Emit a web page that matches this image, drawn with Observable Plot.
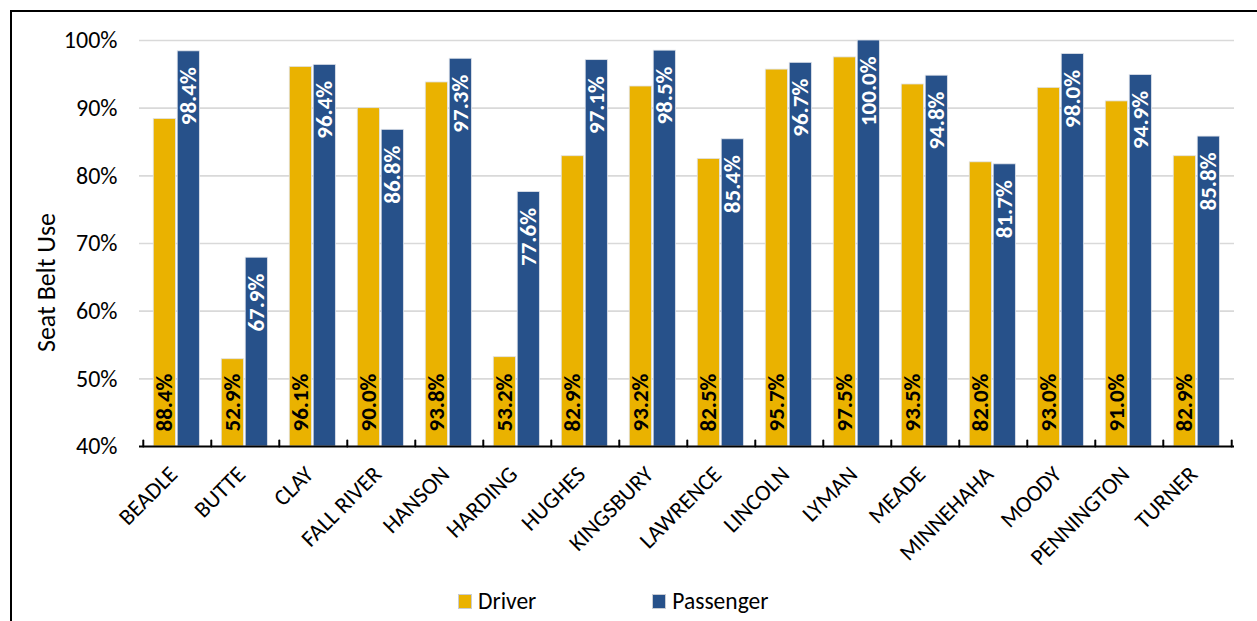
<!DOCTYPE html>
<html>
<head>
<meta charset="utf-8">
<script src="https://cdn.jsdelivr.net/npm/d3@7"></script>
<script src="https://cdn.jsdelivr.net/npm/@observablehq/plot@0.6"></script>
<style>
  html, body { margin: 0; padding: 0; background: #fff; }
  body { width: 1257px; height: 621px; position: relative; overflow: hidden; font-family: Carlito, Lato, sans-serif; }
  #frame { position: absolute; left: 10px; top: 10px; width: 1300px; height: 700px; border-left: 2px solid #000; border-top: 2px solid #000; }
  #chart { position: absolute; left: 0; top: 0; }
  #legend { position: absolute; top: 587px; left: 458px; display: flex; font-size: 23.5px; color: #000; }
  .item { display: flex; align-items: center; }
  .sw { width: 14px; height: 15px; margin-right: 6px; box-sizing: border-box; border: 1px solid #c9ccd3; }
</style>
</head>
<body>
<div id="frame"></div>
<div id="chart"></div>
<div id="legend"></div>
<script>
const counties = ["BEADLE","BUTTE","CLAY","FALL RIVER","HANSON","HARDING","HUGHES","KINGSBURY","LAWRENCE","LINCOLN","LYMAN","MEADE","MINNEHAHA","MOODY","PENNINGTON","TURNER"];
const driver = [88.4,52.9,96.1,90.0,93.8,53.2,82.9,93.2,82.5,95.7,97.5,93.5,82.0,93.0,91.0,82.9];
const passenger = [98.4,67.9,96.4,86.8,97.3,77.6,97.1,98.5,85.4,96.7,100.0,94.8,81.7,98.0,94.9,85.8];
const series = ["Driver","Passenger"];
const colors = ["#EAB200","#27518A"];
const yTicks = [40,50,60,70,80,90,100];
const yTitle = "Seat Belt Use";
const yMin = 40, yMax = 100;

const driverRows = counties.map((c,i) => ({county: c, value: driver[i]}));
const passRows = counties.map((c,i) => ({county: c, value: passenger[i]}));

const W = 1257, H = 575, mL = 139, mR = 23, mT = 40, mB = H - 446;
const bw = (W - mL - mR) / counties.length;
const fmt = v => v.toFixed(1) + "%";
const font = "Carlito, Lato, sans-serif";

const tickShape = {draw(ctx, l) { ctx.moveTo(0, 0); ctx.lineTo(0, -l); }};

const plot = Plot.plot({
  width: W, height: H,
  marginLeft: mL, marginRight: mR, marginTop: mT, marginBottom: mB,
  style: {fontFamily: font, color: "#000", background: "transparent"},
  x: {domain: counties, padding: 0},
  y: {domain: [yMin, yMax]},
  marks: [
    Plot.gridY(yTicks.filter(t => t > yMin), {stroke: "#d9d9d9", strokeOpacity: 1, strokeWidth: 1.6}),
    Plot.barY(driverRows, {x: "county", y1: yMin, y2: "value", fill: colors[0], stroke: "#dfe3ea", strokeWidth: 0.8, insetLeft: bw*0.15, insetRight: bw*0.52}),
    Plot.barY(passRows, {x: "county", y1: yMin, y2: "value", fill: colors[1], stroke: "#dfe3ea", strokeWidth: 0.8, insetLeft: bw*0.50, insetRight: bw*0.17}),
    Plot.ruleY([yMin], {stroke: "#000", strokeWidth: 2}),
    Plot.vector(counties, {x: d => d, y: yMin, length: 6, rotate: 0, anchor: "start", shape: tickShape, stroke: "#000", strokeWidth: 2, dx: -bw/2}),
    Plot.vector(counties.slice(-1), {x: d => d, y: yMin, length: 6, rotate: 0, anchor: "start", shape: tickShape, stroke: "#000", strokeWidth: 2, dx: bw/2}),
    Plot.text(driverRows, {x: "county", y: yMin, text: d => fmt(d.value), rotate: -90, textAnchor: "start", lineAnchor: "middle", dx: -bw*0.185, dy: -15, fill: "#000", fontWeight: "bold", fontSize: 23}),
    Plot.text(passRows, {x: "county", y: "value", text: d => fmt(d.value), rotate: -90, textAnchor: "end", lineAnchor: "middle", dx: bw*0.165, dy: 16, fill: "#fff", fontWeight: "bold", fontSize: 23}),
    Plot.axisY({ticks: yTicks, tickFormat: d => d + "%", tickSize: 0, tickPadding: 22, fontSize: 24, label: null}),
    Plot.text([yTitle], {frameAnchor: "left", text: d => d, rotate: -90, lineAnchor: "middle", textAnchor: "middle", dx: -93, dy: 39, fontSize: 26, fill: "#000"}),
    Plot.axisX({tickSize: 0, tickRotate: -45, tickPadding: 24, fontSize: 23, label: null, dx: -4})
  ]
});
document.getElementById("chart").appendChild(plot);

const legend = document.getElementById("legend");
series.forEach((s, i) => {
  const it = document.createElement("div");
  it.className = "item";
  it.style.marginRight = i === 0 ? "116px" : "0";
  const sw = document.createElement("div");
  sw.className = "sw";
  sw.style.background = colors[i];
  const t = document.createElement("span");
  t.textContent = s;
  it.appendChild(sw); it.appendChild(t);
  legend.appendChild(it);
});
</script>
</body>
</html>
